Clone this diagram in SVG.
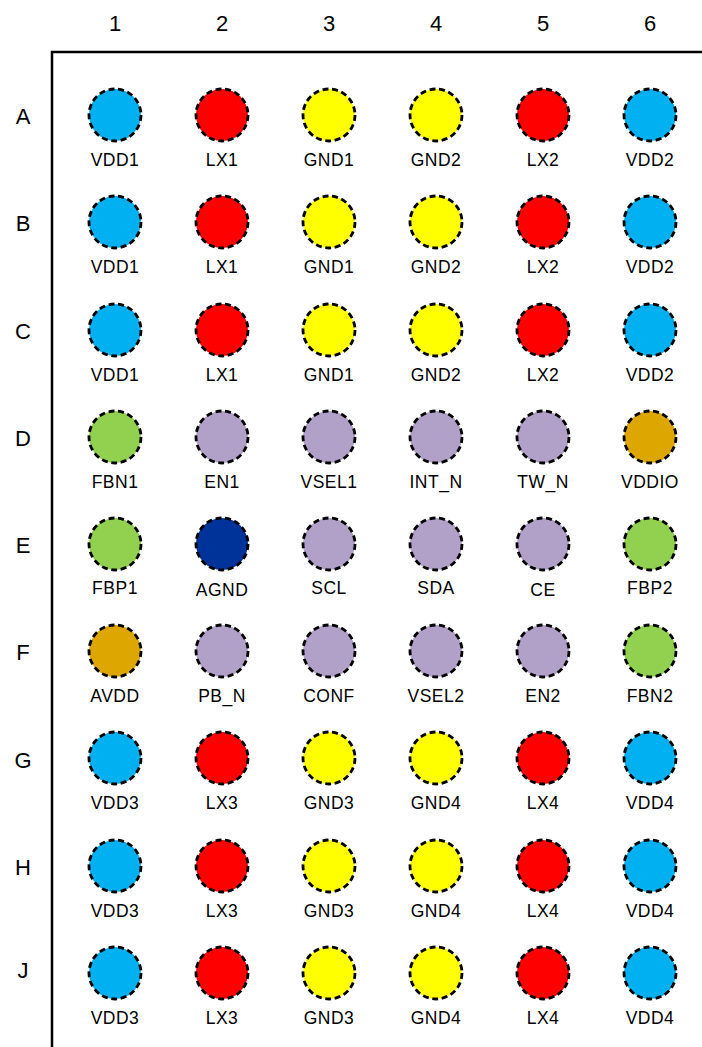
<svg xmlns="http://www.w3.org/2000/svg" width="702" height="1047" viewBox="0 0 702 1047">
<style>
text{font-family:"Liberation Sans",Arial,sans-serif;fill:#000;text-anchor:middle}
.hd{font-size:22px}
.lb{font-size:17.5px;letter-spacing:0.5px}
circle{stroke:#000;stroke-width:2.8;stroke-dasharray:6 3.6}
.b{fill:#00B0F0}.r{fill:#FF0000}.y{fill:#FFFF00}.g{fill:#92D050}.p{fill:#B1A0C7}.o{fill:#DDA600}.n{fill:#003399}
</style>
<rect width="702" height="1047" fill="#fff"/>
<g id="frame" stroke="#000" stroke-width="2.5" fill="none">
<path d="M52,1047 V52 H702"/>
</g>
<g id="headers">
<text class="hd" x="115" y="31">1</text><text class="hd" x="222" y="31">2</text><text class="hd" x="329" y="31">3</text><text class="hd" x="436" y="31">4</text><text class="hd" x="543" y="31">5</text><text class="hd" x="650" y="31">6</text>
<text class="hd" x="23" y="124">A</text><text class="hd" x="23" y="231">B</text><text class="hd" x="23" y="339">C</text><text class="hd" x="23" y="446">D</text><text class="hd" x="23" y="553">E</text><text class="hd" x="23" y="660">F</text><text class="hd" x="23" y="768">G</text><text class="hd" x="23" y="875">H</text><text class="hd" x="23" y="978">J</text>
</g>
<g id="A1"><circle class="b" cx="115" cy="115" r="26"/><text class="lb" x="115" y="166">VDD1</text></g>
<g id="A2"><circle class="r" cx="222" cy="115" r="26"/><text class="lb" x="222" y="166">LX1</text></g>
<g id="A3"><circle class="y" cx="329" cy="115" r="26"/><text class="lb" x="329" y="166">GND1</text></g>
<g id="A4"><circle class="y" cx="436" cy="115" r="26"/><text class="lb" x="436" y="166">GND2</text></g>
<g id="A5"><circle class="r" cx="543" cy="115" r="26"/><text class="lb" x="543" y="166">LX2</text></g>
<g id="A6"><circle class="b" cx="650" cy="115" r="26"/><text class="lb" x="650" y="166">VDD2</text></g>
<g id="B1"><circle class="b" cx="115" cy="222" r="26"/><text class="lb" x="115" y="273">VDD1</text></g>
<g id="B2"><circle class="r" cx="222" cy="222" r="26"/><text class="lb" x="222" y="273">LX1</text></g>
<g id="B3"><circle class="y" cx="329" cy="222" r="26"/><text class="lb" x="329" y="273">GND1</text></g>
<g id="B4"><circle class="y" cx="436" cy="222" r="26"/><text class="lb" x="436" y="273">GND2</text></g>
<g id="B5"><circle class="r" cx="543" cy="222" r="26"/><text class="lb" x="543" y="273">LX2</text></g>
<g id="B6"><circle class="b" cx="650" cy="222" r="26"/><text class="lb" x="650" y="273">VDD2</text></g>
<g id="C1"><circle class="b" cx="115" cy="330" r="26"/><text class="lb" x="115" y="381">VDD1</text></g>
<g id="C2"><circle class="r" cx="222" cy="330" r="26"/><text class="lb" x="222" y="381">LX1</text></g>
<g id="C3"><circle class="y" cx="329" cy="330" r="26"/><text class="lb" x="329" y="381">GND1</text></g>
<g id="C4"><circle class="y" cx="436" cy="330" r="26"/><text class="lb" x="436" y="381">GND2</text></g>
<g id="C5"><circle class="r" cx="543" cy="330" r="26"/><text class="lb" x="543" y="381">LX2</text></g>
<g id="C6"><circle class="b" cx="650" cy="330" r="26"/><text class="lb" x="650" y="381">VDD2</text></g>
<g id="D1"><circle class="g" cx="115" cy="437" r="26"/><text class="lb" x="115" y="488">FBN1</text></g>
<g id="D2"><circle class="p" cx="222" cy="437" r="26"/><text class="lb" x="222" y="488">EN1</text></g>
<g id="D3"><circle class="p" cx="329" cy="437" r="26"/><text class="lb" x="329" y="488">VSEL1</text></g>
<g id="D4"><circle class="p" cx="436" cy="437" r="26"/><text class="lb" x="436" y="488">INT_N</text></g>
<g id="D5"><circle class="p" cx="543" cy="437" r="26"/><text class="lb" x="543" y="488">TW_N</text></g>
<g id="D6"><circle class="o" cx="650" cy="437" r="26"/><text class="lb" x="650" y="488">VDDIO</text></g>
<g id="E1"><circle class="g" cx="115" cy="544" r="26"/><text class="lb" x="115" y="594">FBP1</text></g>
<g id="E2"><circle class="n" cx="222" cy="544" r="26"/><text class="lb" x="222" y="596">AGND</text></g>
<g id="E3"><circle class="p" cx="329" cy="544" r="26"/><text class="lb" x="329" y="594">SCL</text></g>
<g id="E4"><circle class="p" cx="436" cy="544" r="26"/><text class="lb" x="436" y="594">SDA</text></g>
<g id="E5"><circle class="p" cx="543" cy="544" r="26"/><text class="lb" x="543" y="596">CE</text></g>
<g id="E6"><circle class="g" cx="650" cy="544" r="26"/><text class="lb" x="650" y="594">FBP2</text></g>
<g id="F1"><circle class="o" cx="115" cy="651" r="26"/><text class="lb" x="115" y="702">AVDD</text></g>
<g id="F2"><circle class="p" cx="222" cy="651" r="26"/><text class="lb" x="222" y="702">PB_N</text></g>
<g id="F3"><circle class="p" cx="329" cy="651" r="26"/><text class="lb" x="329" y="702">CONF</text></g>
<g id="F4"><circle class="p" cx="436" cy="651" r="26"/><text class="lb" x="436" y="702">VSEL2</text></g>
<g id="F5"><circle class="p" cx="543" cy="651" r="26"/><text class="lb" x="543" y="702">EN2</text></g>
<g id="F6"><circle class="g" cx="650" cy="651" r="26"/><text class="lb" x="650" y="702">FBN2</text></g>
<g id="G1"><circle class="b" cx="115" cy="758" r="26"/><text class="lb" x="115" y="809">VDD3</text></g>
<g id="G2"><circle class="r" cx="222" cy="758" r="26"/><text class="lb" x="222" y="809">LX3</text></g>
<g id="G3"><circle class="y" cx="329" cy="758" r="26"/><text class="lb" x="329" y="809">GND3</text></g>
<g id="G4"><circle class="y" cx="436" cy="758" r="26"/><text class="lb" x="436" y="809">GND4</text></g>
<g id="G5"><circle class="r" cx="543" cy="758" r="26"/><text class="lb" x="543" y="809">LX4</text></g>
<g id="G6"><circle class="b" cx="650" cy="758" r="26"/><text class="lb" x="650" y="809">VDD4</text></g>
<g id="H1"><circle class="b" cx="115" cy="866" r="26"/><text class="lb" x="115" y="917">VDD3</text></g>
<g id="H2"><circle class="r" cx="222" cy="866" r="26"/><text class="lb" x="222" y="917">LX3</text></g>
<g id="H3"><circle class="y" cx="329" cy="866" r="26"/><text class="lb" x="329" y="917">GND3</text></g>
<g id="H4"><circle class="y" cx="436" cy="866" r="26"/><text class="lb" x="436" y="917">GND4</text></g>
<g id="H5"><circle class="r" cx="543" cy="866" r="26"/><text class="lb" x="543" y="917">LX4</text></g>
<g id="H6"><circle class="b" cx="650" cy="866" r="26"/><text class="lb" x="650" y="917">VDD4</text></g>
<g id="J1"><circle class="b" cx="115" cy="973" r="26"/><text class="lb" x="115" y="1024">VDD3</text></g>
<g id="J2"><circle class="r" cx="222" cy="973" r="26"/><text class="lb" x="222" y="1024">LX3</text></g>
<g id="J3"><circle class="y" cx="329" cy="973" r="26"/><text class="lb" x="329" y="1024">GND3</text></g>
<g id="J4"><circle class="y" cx="436" cy="973" r="26"/><text class="lb" x="436" y="1024">GND4</text></g>
<g id="J5"><circle class="r" cx="543" cy="973" r="26"/><text class="lb" x="543" y="1024">LX4</text></g>
<g id="J6"><circle class="b" cx="650" cy="973" r="26"/><text class="lb" x="650" y="1024">VDD4</text></g>
</svg>
